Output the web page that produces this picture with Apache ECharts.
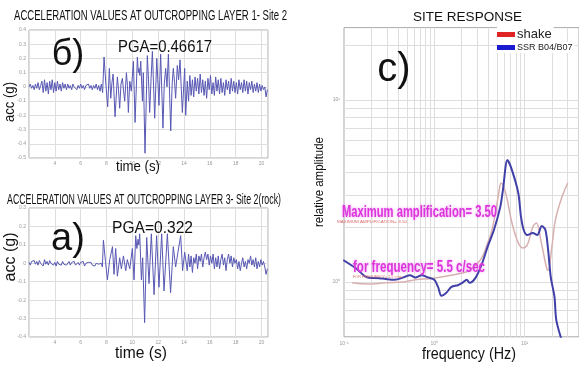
<!DOCTYPE html>
<html>
<head>
<meta charset="utf-8">
<script src="https://cdn.jsdelivr.net/npm/echarts@6/dist/echarts.min.js"></script>
<style>
html,body{margin:0;padding:0;background:#fff}
#chart{width:579px;height:368px}
</style>
</head>
<body>
<div id="chart"></div>
<script>
// Acceleration record at outcropping layer 1 (site 2): [time (s), acc (g)]
const layer1Record = [
  [2.0,0.00],[2.1,0.02],[2.2,-0.01],[2.3,0.01],[2.4,-0.02],[2.5,0.02],[2.6,-0.01],[2.7,0.03],[2.8,-0.02],[2.9,0.01],
  [3.0,0.04],[3.1,-0.04],[3.2,0.05],[3.3,-0.03],[3.4,0.03],[3.5,-0.05],[3.6,0.04],[3.7,-0.02],[3.8,0.05],[3.9,-0.04],
  [4.0,0.03],[4.1,-0.03],[4.2,0.04],[4.3,-0.02],[4.4,0.02],[4.5,-0.03],[4.6,0.03],[4.7,-0.01],[4.8,0.02],[4.9,-0.02],
  [5.0,0.02],[5.1,-0.01],[5.2,0.01],[5.3,-0.02],[5.4,0.02],[5.5,0.00],[5.6,0.01],[5.7,-0.02],[5.8,0.01],[5.9,-0.01],
  [6.0,0.02],[6.1,-0.01],[6.2,0.01],[6.3,-0.02],[6.4,0.01],[6.5,0.00],[6.6,0.02],[6.7,-0.01],[6.8,0.01],[6.9,-0.02],
  [7.0,0.01],[7.1,-0.01],[7.2,0.02],[7.3,-0.02],[7.4,0.01],[7.5,-0.03],[7.6,0.02],[7.7,-0.04],
  [7.81,0.21],[7.95,0.02],[8.09,-0.14],[8.22,0.13],[8.33,-0.08],[8.42,0.03],[8.51,0.09],[8.66,-0.21],[8.84,0.07],[8.93,-0.02],
  [9.02,-0.15],[9.12,0.02],[9.23,0.06],[9.32,-0.03],[9.41,-0.10],[9.54,0.10],[9.62,0.01],[9.69,-0.18],[9.80,0.04],[9.92,-0.03],
  [10.08,0.18],[10.21,-0.25],[10.39,0.21],[10.46,0.10],[10.52,0.13],[10.58,0.08],[10.65,0.18],[10.78,-0.10],[10.85,0.10],[10.98,-0.46617],
  [11.16,0.22],[11.25,0.05],[11.34,-0.18],[11.45,0.06],[11.55,0.25],[11.73,-0.22],[11.89,0.20],[11.97,0.05],[12.06,-0.13],[12.19,0.23],
  [12.37,-0.29],[12.47,0.02],[12.58,0.13],[12.68,0.00],[12.79,0.23],[12.97,-0.31],[13.08,0.02],[13.17,0.13],[13.27,0.03],[13.35,-0.08],
  [13.48,0.15],[13.58,0.05],[13.69,0.19],[13.87,-0.18],[14.05,0.13],[14.13,-0.20],[14.25,0.04],
  [14.35,-0.10],[14.45,0.08],[14.55,-0.06],[14.65,0.05],[14.75,-0.07],[14.85,0.07],[14.95,-0.03],[15.05,0.06],[15.15,-0.05],[15.25,0.09],
  [15.35,-0.04],[15.45,0.05],[15.55,-0.06],[15.65,0.04],[15.75,-0.08],[15.85,0.06],[15.95,-0.02],[16.05,0.08],[16.15,-0.05],[16.25,0.03],
  [16.35,-0.06],[16.45,0.07],[16.55,-0.03],[16.65,0.05],[16.75,-0.05],[16.85,0.06],[16.95,-0.04],[17.05,0.03],[17.15,-0.06],[17.25,0.05],
  [17.35,-0.02],[17.45,0.04],[17.55,-0.05],[17.65,0.06],[17.75,-0.03],[17.85,0.04],[17.95,-0.04],[18.05,0.03],[18.15,-0.05],[18.25,0.05],
  [18.35,-0.02],[18.45,0.03],[18.55,-0.04],[18.65,0.05],[18.75,-0.03],[18.85,0.04],[18.95,-0.05],[19.05,0.03],[19.15,-0.02],[19.25,0.04],
  [19.35,-0.04],[19.45,0.02],[19.55,-0.03],[19.65,0.03],[19.75,-0.04],[19.85,0.02],[19.95,-0.03],[20.05,0.01],[20.15,-0.02],[20.25,0.00],
  [20.35,-0.07],[20.45,-0.02]
];

// Acceleration record at outcropping layer 3 (site 2, rock): [time (s), acc (g)]
const layer3Record = [
  [2.0,0.005],[2.1,-0.01],[2.2,0.01],[2.3,0.0],[2.4,0.015],[2.5,-0.005],[2.6,0.01],[2.7,-0.01],[2.8,0.015],[2.9,0.0],
  [3.0,0.01],[3.1,-0.015],[3.2,0.02],[3.3,-0.005],[3.4,0.01],[3.5,-0.01],[3.6,0.015],[3.7,0.0],[3.8,0.01],[3.9,-0.01],
  [4.0,0.005],[4.1,-0.015],[4.2,0.01],[4.3,-0.005],[4.4,0.005],[4.5,-0.01],[4.6,0.01],[4.7,-0.005],[4.8,0.005],[4.9,-0.01],
  [5.0,0.0],[5.1,0.01],[5.2,-0.01],[5.3,0.005],[5.4,-0.005],[5.5,0.01],[5.6,-0.01],[5.7,0.0],[5.8,0.005],[5.9,-0.01],
  [6.0,0.005],[6.1,-0.005],[6.2,0.01],[6.3,-0.015],[6.4,0.0],[6.5,-0.01],[6.6,0.005],[6.7,-0.005],[6.8,0.005],[6.9,-0.01],
  [7.0,-0.005],[7.1,-0.015],[7.2,0.0],[7.3,-0.01],[7.4,-0.005],[7.5,-0.015],[7.6,0.0],[7.68,-0.02],
  [7.76,0.125],[7.92,0.01],[8.07,-0.09],[8.25,0.02],[8.46,0.09],[8.58,-0.06],[8.71,0.08],[8.84,-0.07],[9.02,0.03],[9.15,-0.03],
  [9.31,0.04],[9.49,-0.04],[9.61,0.02],[9.80,-0.03],[10.0,0.08],[10.13,-0.09],[10.26,0.15],[10.35,0.08],[10.44,0.13],[10.50,0.10],
  [10.57,0.16],[10.70,-0.09],[10.80,0.03],[10.95,-0.322],[11.11,0.14],[11.29,-0.11],[11.47,0.16],[11.68,-0.17],[11.88,0.15],[12.06,-0.13],
  [12.27,0.16],[12.45,-0.15],[12.71,0.16],[12.96,-0.16],[13.17,0.09],[13.35,-0.02],[13.53,0.06],[13.74,0.15],[13.89,-0.04],[14.05,0.06],
  [14.25,-0.04],
  [14.35,0.05],[14.45,-0.02],[14.55,0.04],[14.65,-0.05],[14.75,0.03],[14.85,0.0],[14.95,0.05],[15.05,-0.03],[15.15,0.04],[15.25,0.01],
  [15.35,0.05],[15.45,-0.02],[15.55,0.03],[15.65,0.06],[15.75,0.02],[15.85,0.05],[15.95,-0.01],[16.05,0.04],[16.15,0.0],[16.25,0.05],
  [16.35,-0.03],[16.45,0.03],[16.55,-0.02],[16.65,0.04],[16.75,-0.03],[16.85,0.02],[16.95,0.05],[17.05,-0.01],[17.15,0.03],[17.25,-0.04],
  [17.35,0.02],[17.45,0.05],[17.55,0.0],[17.65,0.04],[17.75,-0.02],[17.85,0.03],[17.95,0.0],[18.05,0.02],[18.15,-0.03],[18.25,0.01],
  [18.35,-0.04],[18.45,0.0],[18.55,0.03],[18.65,-0.02],[18.75,0.01],[18.85,-0.03],[18.95,0.02],[19.05,0.0],[19.15,0.04],[19.25,-0.01],
  [19.35,0.02],[19.45,-0.02],[19.55,0.03],[19.65,-0.03],[19.75,0.01],[19.85,-0.02],[19.95,0.02],[20.05,-0.01],[20.15,0.01],[20.25,-0.02],
  [20.35,-0.06],[20.45,-0.03]
];

// Site response: SHAKE transfer function
const shakeFreq = [0.123,0.182,0.288,0.457,0.617,0.977,1.55,2.04,2.45,2.88,3.39,3.89,4.27,4.79,5.2,5.5,6.17,7.24,8.51,9.55,10.7,12.3,13.5,15.1,17.4,18.2,20.0,21.9,25.7,30.0];
const shakeAmp  = [0.99,0.975,0.99,1.0,1.03,1.05,1.09,1.12,1.16,1.24,1.37,1.64,1.86,2.45,3.15,3.5,3.08,2.11,1.64,1.54,1.60,2.0,2.11,1.70,1.21,1.16,1.55,2.19,2.9,3.5];

// Site response: SSR spectral ratio B04/B07
const ssrFreq = [0.098,0.135,0.182,0.245,0.288,0.363,0.457,0.537,0.617,0.724,0.851,1.0,1.10,1.20,1.35,1.55,1.82,2.04,2.29,2.45,2.88,3.39,3.89,4.57,5.37,5.75,6.46,7.24,8.51,9.12,9.77,10.7,12.3,13.8,15.5,17.0,18.2,19.5,21.4,22.4,25.7];
const ssrAmp  = [1.32,1.19,1.06,1.05,1.04,1.03,1.06,1.09,1.06,1.09,1.06,1.03,0.94,0.84,0.87,0.94,0.96,0.99,1.03,0.99,1.06,1.27,1.56,1.93,2.58,3.20,4.68,4.12,3.08,2.28,1.93,1.81,1.86,1.81,2.03,1.93,1.50,1.06,0.83,0.62,0.48];

// Log-axis grid lines and labelled decades
const freqGrid = [0.2,0.3,0.4,0.5,0.6,0.7,0.8,0.9,1,2,3,4,5,6,7,8,9,10,20,30];
const ampGrid = [0.6,0.7,0.8,0.9,1,2,3,4,5,6,7,8,9,10,20];
const decadeLabels = {'-1':'10\u207B\u00B9', '0':'10\u2070', '1':'10\u00B9'};

const FONT = '"Liberation Sans", Arial, sans-serif';
const measureCtx = document.createElement('canvas').getContext('2d');
function text(str, cx, cy, width, size, opts) {
  opts = opts || {};
  const font = (opts.weight || 'normal') + ' ' + size + 'px ' + FONT;
  measureCtx.font = font;
  const s = width ? width / measureCtx.measureText(str).width : 1;
  return {
    type: 'text', x: cx, y: cy, scaleX: s, rotation: opts.rotation || 0, z: 100,
    style: {
      text: str, font: font, fill: opts.color || '#111', align: 'center', verticalAlign: 'middle',
      textShadowColor: opts.glow || 'transparent', textShadowBlur: opts.glow ? 3 : 0
    }
  };
}

const tinyLabel = { fontSize: 5, color: '#999', fontFamily: FONT };
const gridLine = { color: '#dedede', width: 1 };

function timeAxis(gi) {
  return {
    gridIndex: gi, type: 'value', min: 2, max: 20.5, interval: 2,
    axisLine: { show: false }, axisTick: { show: false },
    splitLine: { show: true, lineStyle: gridLine },
    axisLabel: Object.assign({ margin: 3, formatter: v => (v > 2 && v % 2 === 0) ? String(v) : '' }, tinyLabel)
  };
}
function accAxis(gi, lo, hi) {
  return {
    gridIndex: gi, type: 'value', min: lo, max: hi, interval: 0.1,
    axisLine: { show: false }, axisTick: { show: false },
    splitLine: { show: true, lineStyle: gridLine },
    axisLabel: Object.assign({ margin: 3, formatter: v => String(+v.toFixed(1)) }, tinyLabel)
  };
}
function decadeFormatter(v) {
  const e = Math.log10(v), r = Math.round(e);
  return Math.abs(e - r) < 1e-6 && decadeLabels[r] ? decadeLabels[r] : '';
}
function legendBox(name, color, top, size) {
  return {
    left: 497, top: top, padding: [1, 2, 1, 0], itemWidth: 18, itemHeight: 5, itemGap: 2,
    selectedMode: false, backgroundColor: '#fff', z: 10,
    data: [{ name: name, icon: 'rect', itemStyle: { color: color, borderWidth: 0 } }],
    textStyle: { fontSize: size, color: '#222', fontFamily: FONT, padding: [0, 0, 0, -3] }
  };
}

const chart = echarts.init(document.getElementById('chart'), null, { renderer: 'canvas' });

chart.setOption({
  animation: false,
  backgroundColor: '#fff',
  grid: [
    { left: 29, top: 30, width: 239, height: 128, show: true, borderColor: '#aaa', borderWidth: 1 },
    { left: 29, top: 208, width: 239, height: 129, show: true, borderColor: '#aaa', borderWidth: 1 },
    { left: 344, top: 27.6, width: 260, height: 309.2, show: true, borderColor: '#aaa', borderWidth: 1 }
  ],
  xAxis: [
    timeAxis(0),
    timeAxis(1),
    {
      gridIndex: 2, type: 'log', logBase: 10, min: 0.1, max: 40,
      axisLine: { show: false }, axisTick: { show: false }, splitLine: { show: false },
      axisLabel: Object.assign({ margin: 4, formatter: decadeFormatter, showMaxLabel: false }, tinyLabel)
    }
  ],
  yAxis: [
    accAxis(0, -0.5, 0.4),
    accAxis(1, -0.4, 0.3),
    {
      gridIndex: 2, type: 'log', logBase: 10, min: 0.5, max: 25,
      axisLine: { show: false }, axisTick: { show: false }, splitLine: { show: false },
      axisLabel: Object.assign({ margin: 4, formatter: decadeFormatter }, tinyLabel)
    }
  ],
  legend: [
    legendBox('shake', '#e02424', 27, 13),
    legendBox('SSR B04/B07', '#1a1ad0', 42, 9)
  ],
  series: [
    {
      name: 'layer 1', type: 'line', xAxisIndex: 0, yAxisIndex: 0, data: layer1Record,
      showSymbol: false, lineStyle: { color: '#5858b4', width: 1 }
    },
    {
      name: 'layer 3', type: 'line', xAxisIndex: 1, yAxisIndex: 1, data: layer3Record,
      showSymbol: false, lineStyle: { color: '#5858b4', width: 1 }
    },
    {
      name: 'grid', type: 'line', xAxisIndex: 2, yAxisIndex: 2, data: [], z: 1,
      markLine: {
        z: 1, silent: true, symbol: ['none', 'none'], label: { show: false }, animation: false,
        lineStyle: { color: '#dedede', width: 1, type: 'solid' },
        data: freqGrid.map(f => ({ xAxis: f })).concat(ampGrid.map(a => ({ yAxis: a })))
      }
    },
    {
      name: 'shake', type: 'line', xAxisIndex: 2, yAxisIndex: 2, z: 3,
      data: shakeFreq.map((f, i) => [f, shakeAmp[i]]),
      showSymbol: false, smooth: 0.4, itemStyle: { color: '#e02424' },
      lineStyle: { color: '#d8b0b0', width: 1.5 }
    },
    {
      name: 'SSR B04/B07', type: 'line', xAxisIndex: 2, yAxisIndex: 2, z: 4,
      data: ssrFreq.map((f, i) => [f, ssrAmp[i]]),
      showSymbol: false, smooth: 0.3, itemStyle: { color: '#1a1ad0' },
      lineStyle: { color: '#4040a8', width: 2 }
    }
  ],
  graphic: [
    text('ACCELERATION VALUES AT OUTCROPPING LAYER 1- Site 2', 150.5, 16, 273, 14),
    text('б)', 68, 55, 0, 36),
    text('PGA=0.46617', 165, 48, 94, 16),
    text('time (s)', 138, 167, 44, 15),
    text('acc (g)', 10, 102, 40, 15, { rotation: Math.PI / 2 }),

    text('ACCELERATION VALUES AT OUTCROPPING LAYER 3- Site 2(rock)', 144, 200, 274, 14),
    text('a)', 68, 240, 0, 38),
    text('PGA=0.322', 152.5, 228, 81, 17),
    text('time (s)', 141, 353, 52, 17),
    text('acc (g)', 10, 257, 49, 17, { rotation: Math.PI / 2 }),

    text('SITE RESPONSE', 467.5, 17, 109, 13),
    text('c)', 394, 70, 0, 40),
    text('relative amplitude', 319, 182, 90, 13, { rotation: Math.PI / 2 }),
    text('frequency (Hz)', 469, 355, 94, 16),
    text('MAXIMUM AMPLIFICATION= 3.50', 372, 222, 70, 4, { color: '#d86a6a' }),
    text('FOR FREQUENCY= 5.5 c/sec', 378, 277, 50, 4, { color: '#d86a6a' }),
    text('Maximum amplification= 3.50', 419.5, 212, 155, 17, { weight: 'bold', color: '#dd33dd', glow: 'rgba(230,90,230,0.6)' }),
    text('for frequency= 5.5 c/sec', 419, 267, 132, 17, { weight: 'bold', color: '#dd33dd', glow: 'rgba(230,90,230,0.6)' })
  ]
});
</script>
</body>
</html>
